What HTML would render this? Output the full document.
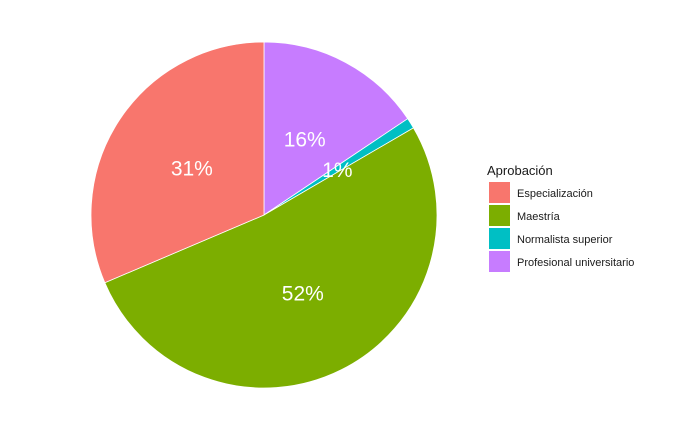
<!DOCTYPE html>
<html><head><meta charset="utf-8">
<style>
html,body{margin:0;padding:0;background:#fff;}
svg{display:block;font-family:"Liberation Sans",Arial,sans-serif;}
</style></head>
<body>
<svg id="chart" width="700" height="432" viewBox="0 0 700 432">
<g id="slices"></g>
<g id="labels"></g>
<g id="legend">
<text x="487" y="175" font-size="13" fill="#1a1a1a">Aprobación</text>
</g>
</svg>
<script>
const categories = ["Profesional universitario","Normalista superior","Maestría","Especialización"];
const values = [15.6, 1.0, 52.0, 31.4];
const labels = ["16%","1%","52%","31%"];
const colors = ["#C77CFF","#00BFC4","#7CAE00","#F8766D"];
const legendOrder = ["Especialización","Maestría","Normalista superior","Profesional universitario"];

const NS="http://www.w3.org/2000/svg";
const cx=264, cy=215, r=173;
const total=values.reduce((a,b)=>a+b,0);
function pt(frac,rad){const a=frac*2*Math.PI;return [cx+rad*Math.sin(a), cy-rad*Math.cos(a)];}
const sg=document.getElementById('slices'), lg=document.getElementById('labels');
let acc=0;
values.forEach((v,i)=>{
  const f0=acc/total, f1=(acc+v)/total; acc+=v;
  const [x0,y0]=pt(f0,r),[x1,y1]=pt(f1,r);
  const large=(f1-f0)>0.5?1:0;
  const p=document.createElementNS(NS,'path');
  p.setAttribute('d',`M${cx},${cy} L${x0},${y0} A${r},${r} 0 ${large} 1 ${x1},${y1} Z`);
  p.setAttribute('fill',colors[i]);
  p.setAttribute('stroke','#fff');
  p.setAttribute('stroke-width','0.8');
  
  
  sg.appendChild(p);
  const [lx,ly]=pt((f0+f1)/2,r*0.5);
  const t=document.createElementNS(NS,'text');
  t.setAttribute('x',lx);t.setAttribute('y',ly+8);
  t.setAttribute('text-anchor','middle');t.setAttribute('font-size','21');t.setAttribute('fill','#fff');
  t.textContent=labels[i];
  
  
  lg.appendChild(t);
});
const leg=document.getElementById('legend');
legendOrder.forEach((name,j)=>{
  const i=categories.indexOf(name);
  const y=182+j*23;
  const rc=document.createElementNS(NS,'rect');
  rc.setAttribute('x',489);rc.setAttribute('y',y);rc.setAttribute('width',21);rc.setAttribute('height',21);
  rc.setAttribute('fill',colors[i]);
  
  
  leg.appendChild(rc);
  const t=document.createElementNS(NS,'text');
  t.setAttribute('x',517);t.setAttribute('y',y+15);t.setAttribute('font-size','11');t.setAttribute('fill','#1a1a1a');
  t.textContent=name;
  
  
  leg.appendChild(t);
});
</script>
</body></html>
